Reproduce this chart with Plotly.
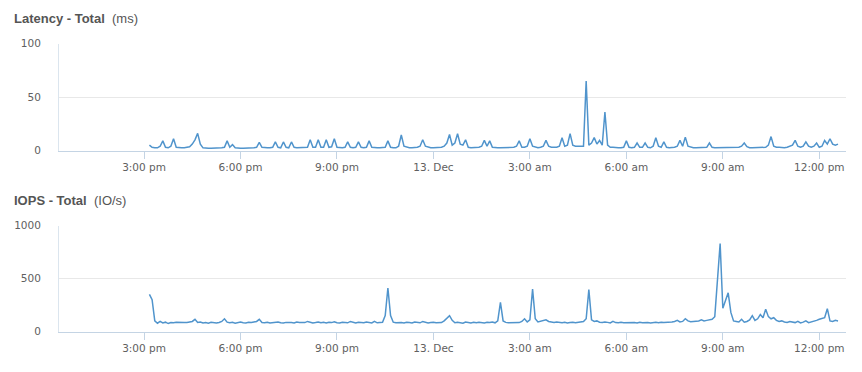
import pandas as pd
import plotly.graph_objects as go

# page body has an 8px margin, so the figure is sized/positioned accordingly
OFF = 8
W, H = 862 - OFF, 372 - OFF

# ---- data (5-minute samples starting 12 Dec 15:10) ----
start_time = "2012-12-12 15:10"
step = "5min"

latency_ms = [
    5, 3, 2.5, 2.5, 4, 9, 3, 2.5, 4, 11, 3, 2.5,
    2.5, 2.5, 3, 3.5, 6, 10, 16, 6, 2.5, 2, 2, 2,
    2, 2, 2, 2.5, 3, 9, 3, 5.5, 2.5, 2, 2, 2,
    2, 2, 2, 2.5, 3, 7.5, 3, 2.5, 2.5, 2.5, 3, 8,
    3, 2.5, 8, 3, 2.5, 8, 3, 2.5, 2.5, 2.5, 2.5, 3,
    10, 3, 3, 10, 3, 3, 10, 3, 3.5, 11, 3, 2.5,
    2.5, 3, 8, 3, 2.5, 3, 8, 3, 2.5, 3, 9, 3,
    2.5, 2.5, 2.5, 2.5, 3, 9, 3, 2.5, 2.5, 4, 14.5, 4,
    3, 2.5, 2.5, 2.5, 3, 4, 10, 4, 3, 2.5, 2.5, 2.5,
    2.5, 3, 4, 7, 15, 5, 7, 15.7, 6, 5, 10, 3,
    2.5, 2.5, 2.5, 3, 4, 9.4, 4, 9, 3, 2.5, 2.5, 2.5,
    2.5, 2.5, 2.5, 2.5, 3, 4, 9, 3, 3, 4, 11, 4,
    3, 2.5, 3, 4, 9.4, 4, 3, 3, 3, 4, 12, 4,
    5, 15.7, 5, 4, 4, 3.5, 4, 65, 5, 7, 12, 6,
    9.4, 5, 36, 5, 3, 3, 2.5, 2.5, 2.5, 3, 9, 3,
    2.5, 3, 7, 3, 3, 7, 3, 2.5, 4, 12, 4, 3,
    8, 3, 2.5, 2.5, 3, 4, 9.4, 4, 12.5, 4, 3, 2.5,
    2.5, 2.5, 2.5, 2.5, 3, 7, 3, 2.5, 2.5, 2.5, 2.5, 2.5,
    2.5, 2.5, 2.5, 2.5, 3, 4, 7, 3.5, 2.5, 2.5, 2.5, 2.5,
    2.5, 3, 3, 5, 13, 4, 3, 3, 2.5, 2.5, 3, 4,
    5, 9.4, 4, 3, 4, 8, 4, 3, 4, 7, 3, 4,
    9.4, 6, 11, 6, 5, 6,
]

iops = [
    350, 300, 100, 78, 95, 80, 88, 75, 85, 82, 88, 85,
    83, 86, 84, 88, 95, 115, 85, 90, 80, 84, 78, 86,
    82, 80, 85, 95, 120, 88, 82, 86, 78, 85, 90, 82,
    80, 86, 84, 90, 95, 115, 85, 82, 88, 80, 84, 86,
    90, 82, 80, 86, 88, 84, 80, 90, 86, 82, 84, 95,
    86, 80, 84, 90, 82, 86, 80, 88, 84, 92, 82, 80,
    88, 84, 82, 95, 84, 80, 88, 86, 82, 90, 84, 80,
    95, 82, 84, 86, 150, 410, 150, 88, 82, 86, 84, 80,
    88, 84, 80, 90, 86, 82, 95, 85, 80, 84, 88, 82,
    86, 84, 100, 130, 150, 105, 82, 86, 80, 78, 90, 84,
    80, 86, 82, 88, 84, 80, 86, 84, 90, 82, 100, 275,
    100, 86, 82, 84, 80, 88, 84, 95, 120, 90, 110, 400,
    120, 90, 95, 100, 110, 95, 88, 84, 90, 86, 82, 86,
    80, 84, 88, 82, 86, 84, 95, 120, 395, 110, 95, 100,
    88, 84, 90, 86, 80, 95, 84, 82, 86, 82, 84, 80,
    86, 84, 80, 88, 82, 86, 84, 80, 84, 86, 82, 88,
    84, 86, 82, 90, 95, 105, 90, 95, 120, 100, 92, 95,
    95, 100, 110, 100, 105, 110, 115, 140, 450, 830, 220, 300,
    365, 180, 100, 95, 90, 115, 88, 95, 110, 150, 105, 120,
    160, 130, 210, 140, 120, 130, 105, 95, 100, 90, 85, 95,
    88, 84, 95, 80, 88, 100, 84, 90, 95, 105, 115, 120,
    130, 215, 100, 95, 105, 100,
]

x_range = ["2012-12-12 12:21:16", "2012-12-13 12:49:52"]
tick_times = ["2012-12-12 15:00", "2012-12-12 18:00", "2012-12-12 21:00",
              "2012-12-13 00:00", "2012-12-13 03:00", "2012-12-13 06:00",
              "2012-12-13 09:00", "2012-12-13 12:00"]
tick_labels = ["3:00 pm", "6:00 pm", "9:00 pm", "13. Dec",
               "3:00 am", "6:00 am", "9:00 am", "12:00 pm"]

lat_ticks = [0, 50, 100]
iops_ticks = [0, 500, 1000]

titles = [("Latency - Total", "(ms)"), ("IOPS - Total", "(IO/s)")]

times = pd.date_range(start_time, periods=len(latency_ms), freq=step)

LINE = "#5094cc"
AXIS = "#c4d4e4"
GRID = "#e8e8e8"
TXT = "#606060"
TICKFONT = dict(family="DejaVu Sans, Verdana, sans-serif", size=10.5, color=TXT)

fig = go.Figure()
fig.add_trace(go.Scatter(x=times, y=latency_ms, mode="lines",
                         line=dict(color=LINE, width=1.5), xaxis="x", yaxis="y",
                         showlegend=False, hoverinfo="skip"))
fig.add_trace(go.Scatter(x=times, y=iops, mode="lines",
                         line=dict(color=LINE, width=1.5), xaxis="x2", yaxis="y2",
                         showlegend=False, hoverinfo="skip"))


def px_x(v):
    return (v - OFF) / W


def px_y(v):
    return 1 - (v - OFF) / H


xdom = [px_x(59), px_x(846)]
top_dom = [px_y(150.5), px_y(43.5)]
bot_dom = [px_y(331.5), px_y(225.5)]

xcommon = dict(type="date", range=x_range, tickvals=tick_times, ticktext=tick_labels,
               showgrid=False, showline=True, linecolor=AXIS, linewidth=1,
               ticks="outside", ticklen=7, tickcolor=AXIS, tickwidth=1,
               tickfont=TICKFONT, zeroline=False, fixedrange=True, domain=xdom)
ycommon = dict(showgrid=True, gridcolor=GRID, gridwidth=1, showline=True,
               linecolor="#dbe5ee", linewidth=1, zeroline=False,
               ticks="outside", ticklen=15, tickcolor="rgba(0,0,0,0)",
               tickfont=TICKFONT, fixedrange=True)

fig.update_layout(
    width=W, height=H,
    margin=dict(l=0, r=0, t=0, b=0, autoexpand=False),
    paper_bgcolor="white", plot_bgcolor="white",
    xaxis=dict(**xcommon, anchor="y"),
    yaxis=dict(**ycommon, domain=top_dom, range=[0, 100], tickvals=lat_ticks, anchor="x"),
    xaxis2=dict(**xcommon, anchor="y2"),
    yaxis2=dict(**ycommon, domain=bot_dom, range=[0, 1000], tickvals=iops_ticks, anchor="x2"),
)

title_y = [px_y(18), px_y(200.5)]
for (main, unit), ty in zip(titles, title_y):
    fig.add_annotation(
        x=px_x(12), y=ty, xref="paper", yref="paper", xanchor="left", yanchor="middle",
        showarrow=False,
        text=f"<b>{main}</b>&nbsp;&nbsp;<span style='font-weight:normal'>{unit}</span>",
        font=dict(family="Liberation Sans, Arial, sans-serif", size=13, color="#555555"),
    )

fig.write_html("out.html")
